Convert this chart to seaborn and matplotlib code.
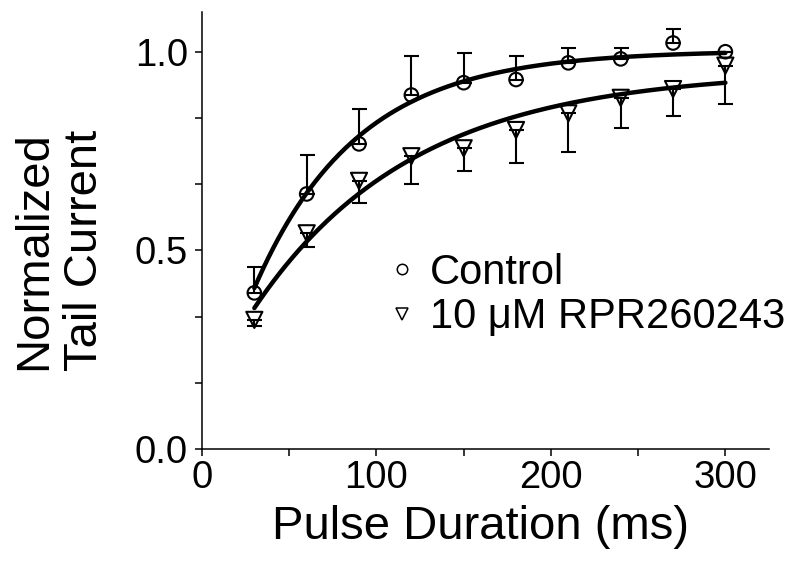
import numpy as np
import pandas as pd
import matplotlib
matplotlib.use("Agg")
import matplotlib.pyplot as plt
from matplotlib.lines import Line2D
from matplotlib.ticker import MultipleLocator
import seaborn as sns

# ---- data ----
duration = [30, 60, 90, 120, 150, 180, 210, 240, 270, 300]
control_mean = [0.393, 0.642, 0.768, 0.891, 0.922, 0.930, 0.972, 0.982, 1.022, 1.000]
control_sem = [0.065, 0.098, 0.089, 0.099, 0.076, 0.060, 0.038, 0.028, 0.036, 0.0]
rpr_mean = [0.325, 0.543, 0.675, 0.737, 0.757, 0.803, 0.845, 0.884, 0.906, 0.965]
rpr_sem = [0.015, 0.034, 0.055, 0.069, 0.057, 0.083, 0.097, 0.075, 0.067, 0.096]

# mono-exponential fits  y = A - B * exp(-t / tau)
control_fit = dict(A=1.003, B=0.997, tau=58.7)
rpr_fit = dict(A=0.953, B=0.831, tau=91.3)

labels = ["Control", "10 \u03bcM RPR260243"]
x_ticks = [0, 100, 200, 300]
y_ticks = [0.0, 0.5, 1.0]

# ---- build tables ----
pts = pd.DataFrame({
    "t": duration * 2,
    "y": control_mean + rpr_mean,
    "grp": [labels[0]] * len(duration) + [labels[1]] * len(duration),
})
tt = np.linspace(min(duration), max(duration), 300)
fit_rows = []
for lab, p in zip(labels, [control_fit, rpr_fit]):
    yy = p["A"] - p["B"] * np.exp(-tt / p["tau"])
    fit_rows.append(pd.DataFrame({"t": tt, "y": yy, "grp": lab}))
fits = pd.concat(fit_rows, ignore_index=True)

# ---- figure ----
sns.set_theme(style="ticks")
plt.rcParams["font.family"] = ["Liberation Sans", "DejaVu Sans"]
plt.rcParams["text.color"] = "black"
plt.rcParams["axes.labelcolor"] = "black"
plt.rcParams["xtick.color"] = "black"
plt.rcParams["ytick.color"] = "black"

fig = plt.figure(figsize=(7.93, 5.69), dpi=100)
ax = fig.add_axes([202 / 793, 1 - 449 / 569, (769 - 202) / 793, (449 - 12) / 569])

# error bars (control up, RPR down)
zeros = [0] * len(duration)
ax.errorbar(duration, control_mean, yerr=[zeros, control_sem], fmt="none",
            ecolor="black", elinewidth=1.5, capsize=5.4, capthick=1.5, zorder=2)
ax.errorbar(duration, rpr_mean, yerr=[rpr_sem, zeros], fmt="none",
            ecolor="black", elinewidth=1.5, capsize=5.4, capthick=1.5, zorder=2)

# fitted curves
sns.lineplot(data=fits, x="t", y="y", units="grp", estimator=None,
             color="black", linewidth=3.2, ax=ax, zorder=3)

# markers
sns.scatterplot(data=pts[pts.grp == labels[0]], x="t", y="y", marker="o", s=95,
                facecolor="none", edgecolor="black", linewidth=1.5, ax=ax, zorder=4)
sns.scatterplot(data=pts[pts.grp == labels[1]], x="t", y="y", marker="v", s=135,
                facecolor="none", edgecolor="black", linewidth=1.5, ax=ax, zorder=4)

ax.set_xlim(0, 325)
ax.set_ylim(0, 1.1)
ax.set_xticks(x_ticks)
ax.set_yticks(y_ticks)
ax.set_yticklabels([f"{v:.1f}" for v in y_ticks])
ax.xaxis.set_minor_locator(MultipleLocator(50))
ax.yaxis.set_minor_locator(MultipleLocator(0.5 / 3))
for s in ["top", "right"]:
    ax.spines[s].set_visible(False)
for s in ["left", "bottom"]:
    ax.spines[s].set_linewidth(1.1)
    ax.spines[s].set_color("black")
ax.tick_params(which="both", direction="out", length=5, width=1.1, color="black")
ax.tick_params(axis="y", which="major", labelsize=27.5, pad=5, labelcolor="black")
ax.tick_params(axis="x", which="major", labelsize=27.5, pad=3, labelcolor="black")

ax.set_xlabel("Pulse Duration (ms)", fontsize=34, color="black")
ax.set_ylabel("Normalized\nTail Current", fontsize=34, linespacing=1.2, color="black")
ax.xaxis.set_label_coords(0.492, -0.128)
ax.yaxis.set_label_coords(-0.168, 0.455)

handles = [
    Line2D([], [], linestyle="none", marker="o", markersize=7.5,
           markerfacecolor="none", markeredgecolor="black", markeredgewidth=1.1),
    Line2D([], [], linestyle="none", marker="v", markersize=8.5,
           markerfacecolor="none", markeredgecolor="black", markeredgewidth=1.1),
]
leg = ax.legend(handles, labels, loc="center left",
                bbox_to_anchor=(392 / 793, 1 - 295 / 569), bbox_transform=fig.transFigure,
                frameon=False, fontsize=30, handlelength=0.5, handletextpad=0.42,
                labelspacing=0.12, borderpad=0, borderaxespad=0)
for t in leg.get_texts():
    t.set_color("black")

fig.savefig("out.png", dpi=100)
